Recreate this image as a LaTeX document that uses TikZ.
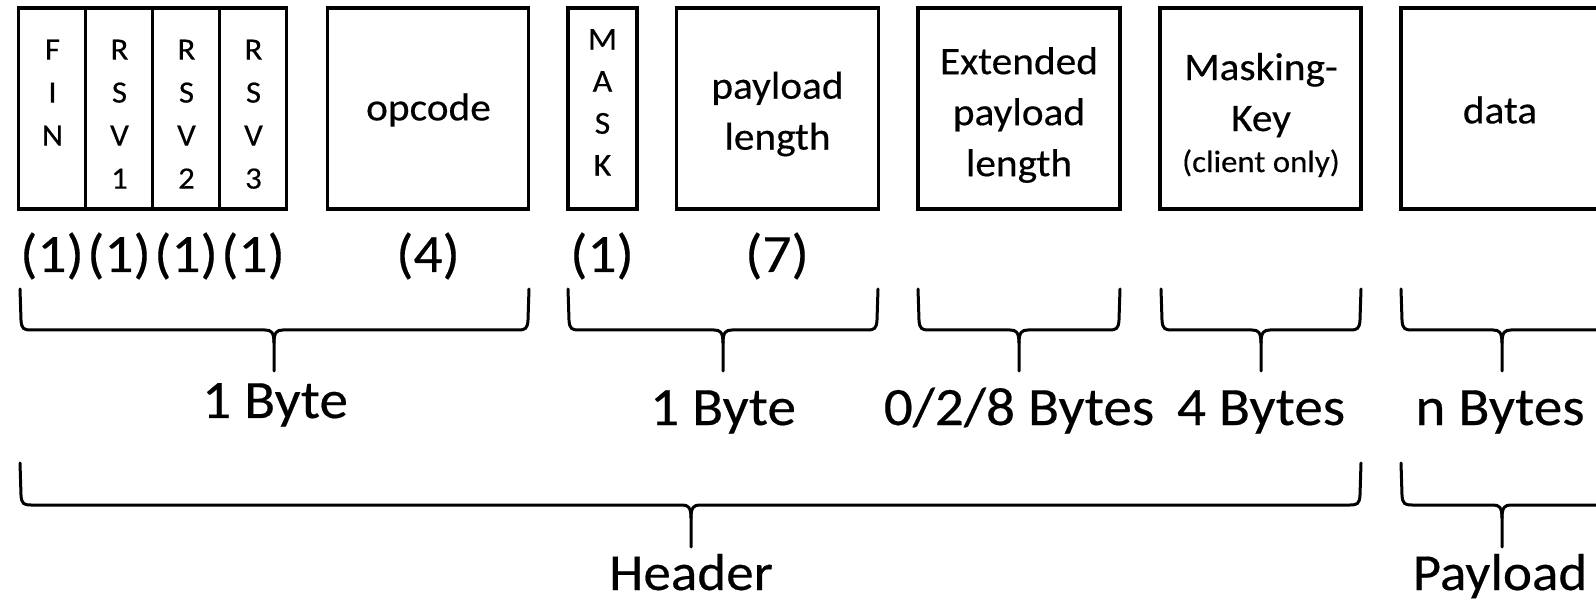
\documentclass[tikz,border=0pt]{standalone}
\usepackage{fontspec}
\setmainfont{Carlito}[FakeStretch=1.06, FakeBold=0.35]
\tikzset{
  field/.style={draw, line width=3.6pt, minimum height=201pt, inner sep=0pt, outer sep=0pt, anchor=north west},
  boxtxt/.style={align=center, inner sep=0pt, font=\fontsize{39}{51}\selectfont},
  bittxt/.style={align=center, inner sep=0pt, anchor=north, font=\fontsize{31}{43}\selectfont},
  big/.style={inner sep=0pt, anchor=base, font=\fontsize{54}{60}\selectfont},
  bracepath/.style={line width=3pt, line cap=round, line join=round}
}
\newcommand\wsbrace[6]{%
  \draw[bracepath] (#1,#4) -- (#1+1,#5-10) .. controls (#1+1.5,#5-1) and (#1+4,#5) .. (#1+11,#5)
    -- (#3-9,#5) .. controls (#3-3,#5) and (#3,#5+2) .. (#3,#5+13) -- (#3,#6);
  \draw[bracepath] (#2,#4) -- (#2-1,#5-10) .. controls (#2-1.5,#5-1) and (#2-4,#5) .. (#2-11,#5)
    -- (#3+9,#5) .. controls (#3+3,#5) and (#3,#5+2) .. (#3,#5+13);
}
\begin{document}
\begin{tikzpicture}[x=1pt,y=-1pt]
\useasboundingbox (0,0) rectangle (1596,601);
\clip (0,0) rectangle (1596,601);
% boxes
\node[field, minimum width=67pt] (fin) at (18.6,8) {};
\node[field, minimum width=67pt] (rsv1) at (85.6,8) {};
\node[field, minimum width=67pt] (rsv2) at (152.6,8) {};
\node[field, minimum width=67pt] (rsv3) at (219.6,8) {};
\node[field, minimum width=201pt] (op) at (327.5,8) {};
\node[field, minimum width=69pt] (mask) at (568,8) {};
\node[field, minimum width=202pt] (plen) at (676.5,8) {};
\node[field, minimum width=202pt] (ext) at (918,8) {};
\node[field, minimum width=201pt] (mkey) at (1160,8) {};
\node[field, minimum width=260pt] (data) at (1401,8) {};
% box texts
\node[bittxt] (tfin) at (52.5,39.5) {F\\I\\N};
\node[bittxt] (trsv1) at (119.5,39.5) {R\\S\\V\\1};
\node[bittxt] (trsv2) at (186.5,39.5) {R\\S\\V\\2};
\node[bittxt] (trsv3) at (253.5,39.5) {R\\S\\V\\3};
\node[bittxt, font=\fontsize{32}{42}\selectfont] (tmask) at (602.5,29) {M\\A\\S\\K};
\node[boxtxt] (top) at (428.5,110) {opcode};
\node[boxtxt] (tplen) at (777.5,114) {payload\\length};
\node[boxtxt] (text) at (1019,115) {Extended\\payload\\length};
\node[boxtxt] (tmkey) at (1261,115) {Masking-\\Key\\[-10pt]{\fontsize{31}{31}\selectfont(client only)}};
\node[boxtxt] (tdata) at (1500,110) {data};
% bit counts
\node[big] (c1) at (52,272) {(1)};
\node[big] (c2) at (119,272) {(1)};
\node[big] (c3) at (186,272) {(1)};
\node[big] (c4) at (253,272) {(1)};
\node[big] (c5) at (428,272) {(4)};
\node[big] (c6) at (602,272) {(1)};
\node[big] (c7) at (777,272) {(7)};
% braces
\wsbrace{20}{529}{274}{289}{330}{371}
\wsbrace{568}{878}{723}{289}{330}{371}
\wsbrace{918}{1120}{1019}{289}{330}{371}
\wsbrace{1161}{1361}{1261}{289}{330}{371}
\wsbrace{1401}{1700}{1502}{289}{330}{371}
\wsbrace{20}{1361}{691}{463}{505}{547}
\wsbrace{1401}{1700}{1502}{463}{505}{547}
% brace labels
\node[big] (l1) at (275,418) {1 Byte};
\node[big] (l2) at (723,425) {1 Byte};
\node[big] (l3) at (1019,425) {0/2/8 Bytes};
\node[big] (l4) at (1261,425) {4 Bytes};
\node[big] (l5) at (1500,425) {n Bytes};
\node[big, font=\fontsize{52}{60}\selectfont] (hdr) at (691,590) {Header};
\node[big, font=\fontsize{52}{60}\selectfont] (pay) at (1500,590) {Payload};
\end{tikzpicture}
\end{document}
